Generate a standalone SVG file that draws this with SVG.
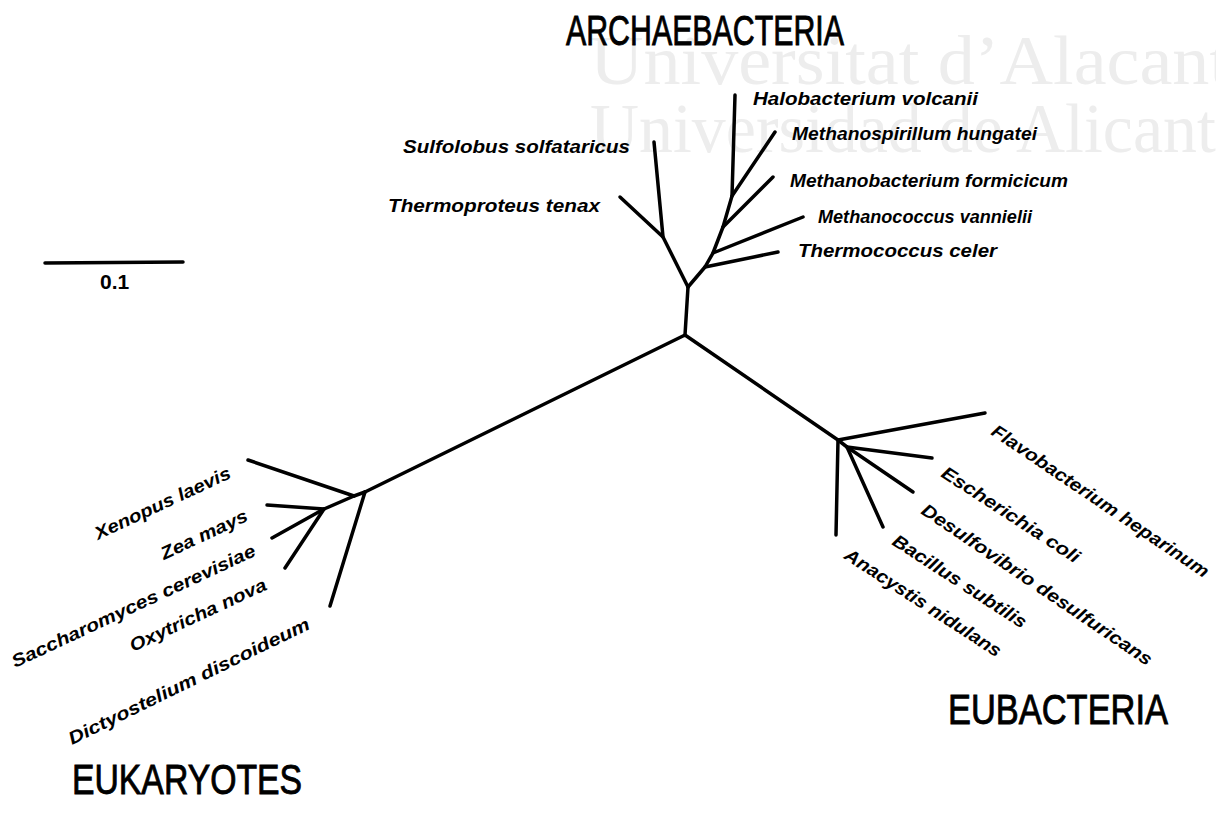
<svg xmlns="http://www.w3.org/2000/svg" width="1216" height="813" viewBox="0 0 1216 813">
<style>
.wm{font-family:"Liberation Serif",serif;font-size:70px;fill:#ededed}
.title{font-family:"Liberation Sans",Arial,sans-serif;font-size:42px;fill:#000;stroke:#000;stroke-width:0.9}
.lbl{font-family:"Liberation Sans",Arial,sans-serif;font-size:18px;font-weight:bold;font-style:italic;fill:#000}
.br{fill:none;stroke:#000;stroke-width:3.5;stroke-linecap:round;stroke-linejoin:round}
</style>
<rect width="1216" height="813" fill="#fff"/>
<g id="watermark">
<text class="wm" x="590" y="84" textLength="640" lengthAdjust="spacingAndGlyphs">Universitat d’Alacant</text>
<text class="wm" x="590" y="152" textLength="656" lengthAdjust="spacingAndGlyphs">Universidad de Alicante</text>
</g>
<g id="titles">
<text class="title" x="566" y="45" textLength="278" lengthAdjust="spacingAndGlyphs">ARCHAEBACTERIA</text>
<text class="title" x="948" y="724" textLength="220" lengthAdjust="spacingAndGlyphs">EUBACTERIA</text>
<text class="title" x="72" y="794" textLength="230" lengthAdjust="spacingAndGlyphs">EUKARYOTES</text>
</g>
<g id="scale">
<line class="br" x1="45" y1="263" x2="183" y2="262"/>
<text x="100" y="289" font-family="Liberation Sans, Arial, sans-serif" font-size="21" font-weight="bold">0.1</text>
</g>
<g id="connectors">
<polyline class="br" points="365,492 685,335 838,440"/>
<polyline class="br" points="685,335 688,287"/>
<polyline class="br" points="688,287 663,237 654,142"/>
<polyline class="br" points="663,237 620,197"/>
<polyline class="br" points="688,287 705,267 713,253 723,227 732,196 735,95"/>
<polyline class="br" points="705,267 778,252"/>
<polyline class="br" points="713,253 803,217"/>
<polyline class="br" points="723,227 773,177"/>
<polyline class="br" points="732,196 775,132"/>
<polyline class="br" points="365,492 330,606"/>
<polyline class="br" points="365,492 354,496 324,509 267,505"/>
<polyline class="br" points="354,496 248,460"/>
<polyline class="br" points="324,509 272,538"/>
<polyline class="br" points="324,509 285,568"/>
<polyline class="br" points="838,440 985,413"/>
<polyline class="br" points="838,440 836,535"/>
<polyline class="br" points="838,440 847,447 932,458"/>
<polyline class="br" points="847,447 913,492"/>
<polyline class="br" points="847,447 883,527"/>
</g>
<g id="archaea-labels">
<text class="lbl" x="403" y="153" textLength="227" lengthAdjust="spacingAndGlyphs">Sulfolobus solfataricus</text>
<text class="lbl" x="388" y="212" textLength="212" lengthAdjust="spacingAndGlyphs">Thermoproteus tenax</text>
<text class="lbl" x="753" y="105" textLength="225" lengthAdjust="spacingAndGlyphs">Halobacterium volcanii</text>
<text class="lbl" x="792" y="140" textLength="245" lengthAdjust="spacingAndGlyphs">Methanospirillum hungatei</text>
<text class="lbl" x="790" y="187" textLength="278" lengthAdjust="spacingAndGlyphs">Methanobacterium formicicum</text>
<text class="lbl" x="818" y="223" textLength="214" lengthAdjust="spacingAndGlyphs">Methanococcus vannielii</text>
<text class="lbl" x="798" y="257" textLength="199" lengthAdjust="spacingAndGlyphs">Thermococcus celer</text>
</g>
<g id="eukaryote-labels">
<text class="lbl" transform="translate(98,540) rotate(-25)" textLength="148" lengthAdjust="spacingAndGlyphs">Xenopus laevis</text>
<text class="lbl" transform="translate(164,560) rotate(-25)" textLength="94" lengthAdjust="spacingAndGlyphs">Zea mays</text>
<text class="lbl" transform="translate(15,668) rotate(-25)" textLength="267" lengthAdjust="spacingAndGlyphs">Saccharomyces cerevisiae</text>
<text class="lbl" transform="translate(133,652) rotate(-25)" textLength="149" lengthAdjust="spacingAndGlyphs">Oxytricha nova</text>
<text class="lbl" transform="translate(72,745) rotate(-26)" textLength="266" lengthAdjust="spacingAndGlyphs">Dictyostelium discoideum</text>
</g>
<g id="eubacteria-labels">
<text class="lbl" transform="translate(990,434) rotate(34)" textLength="258" lengthAdjust="spacingAndGlyphs">Flavobacterium heparinum</text>
<text class="lbl" transform="translate(940,476) rotate(33)" textLength="161" lengthAdjust="spacingAndGlyphs">Escherichia coli</text>
<text class="lbl" transform="translate(920,513) rotate(34)" textLength="274" lengthAdjust="spacingAndGlyphs">Desulfovibrio desulfuricans</text>
<text class="lbl" transform="translate(891,544) rotate(33)" textLength="156" lengthAdjust="spacingAndGlyphs">Bacillus subtilis</text>
<text class="lbl" transform="translate(843,558) rotate(33)" textLength="183" lengthAdjust="spacingAndGlyphs">Anacystis nidulans</text>
</g>
</svg>
